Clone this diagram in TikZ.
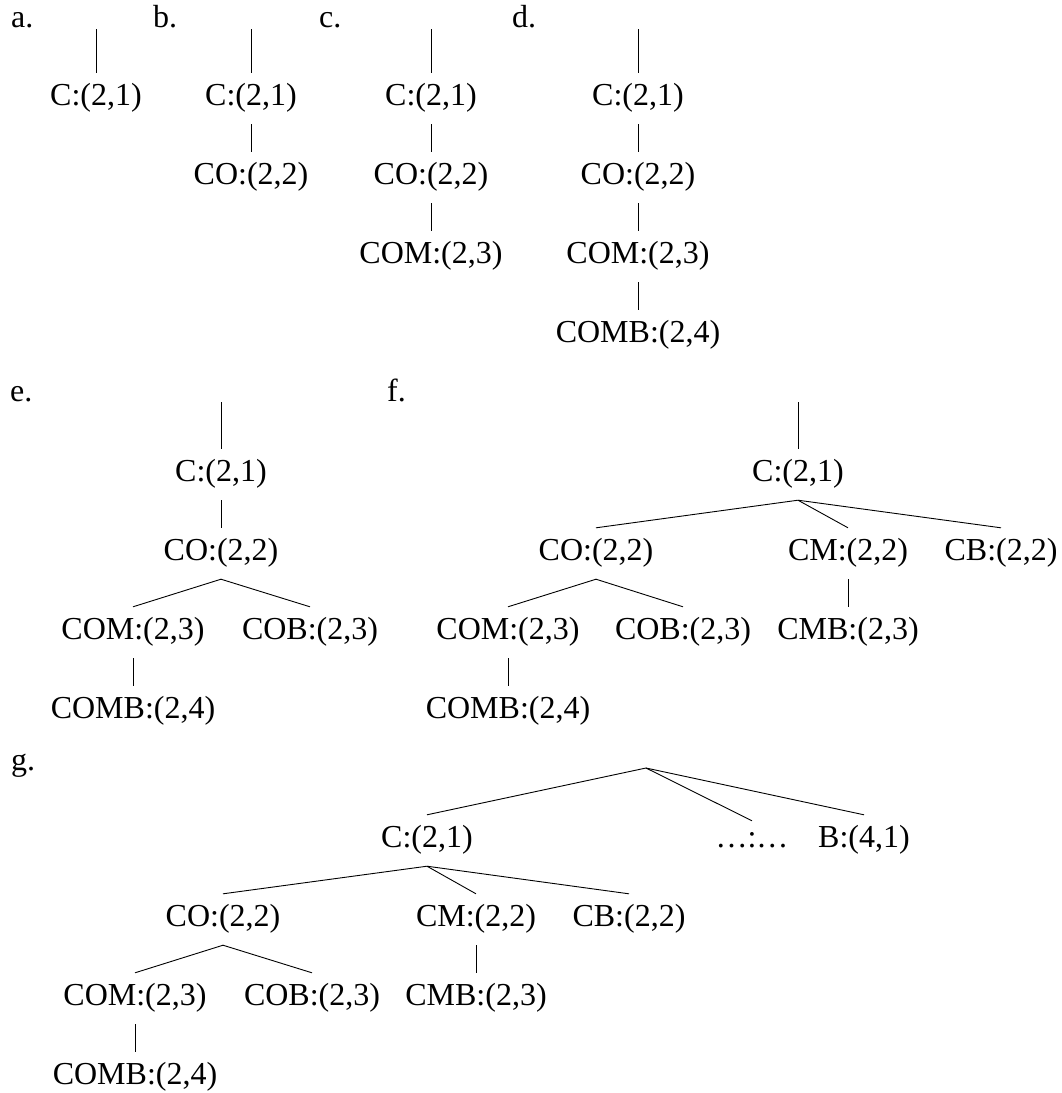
\documentclass[tikz,border=0pt]{standalone}
\usepackage{fontspec}
\setmainfont{Liberation Serif}
\tikzset{
  tn/.style={font=\fontsize{32}{38}\selectfont, inner xsep=0pt, inner ysep=12pt,
             text height=20pt, text depth=7pt, anchor=base},
  dotsn/.style={tn, text height=14pt},
  plab/.style={font=\fontsize{32}{38}\selectfont, inner sep=0pt, anchor=base west},
  edge/.style={line width=0.9pt}
}
\begin{document}
\begin{tikzpicture}[x=1pt,y=-1pt]
\useasboundingbox (0,0) rectangle (1062,1093);
% ---------- a ----------
\node[plab] (la) at (11,27) {a.};
\coordinate (ta) at (96,29);
\node[tn] (aC) at (96,105) {C:(2,1)};
\draw[edge] (ta) -- (aC.north);
% ---------- b ----------
\node[plab] (lb) at (153,27) {b.};
\coordinate (tb) at (251,29);
\node[tn] (bC) at (251,105) {C:(2,1)};
\node[tn] (bCO) at (251,184) {CO:(2,2)};
\draw[edge] (tb) -- (bC.north);
\draw[edge] (bC.south) -- (bCO.north);
% ---------- c ----------
\node[plab] (lc) at (319,27) {c.};
\coordinate (tc) at (431,29);
\node[tn] (cC) at (431,105) {C:(2,1)};
\node[tn] (cCO) at (431,184) {CO:(2,2)};
\node[tn] (cCOM) at (431,263) {COM:(2,3)};
\draw[edge] (tc) -- (cC.north);
\draw[edge] (cC.south) -- (cCO.north);
\draw[edge] (cCO.south) -- (cCOM.north);
% ---------- d ----------
\node[plab] (ld) at (512,27) {d.};
\coordinate (td) at (638,29);
\node[tn] (dC) at (638,105) {C:(2,1)};
\node[tn] (dCO) at (638,184) {CO:(2,2)};
\node[tn] (dCOM) at (638,263) {COM:(2,3)};
\node[tn] (dCOMB) at (638,342) {COMB:(2,4)};
\draw[edge] (td) -- (dC.north);
\draw[edge] (dC.south) -- (dCO.north);
\draw[edge] (dCO.south) -- (dCOM.north);
\draw[edge] (dCOM.south) -- (dCOMB.north);
% ---------- e ----------
\node[plab] (le) at (10,401) {e.};
\coordinate (te) at (221,402);
\node[tn] (eC) at (221,481) {C:(2,1)};
\node[tn] (eCO) at (221,560) {CO:(2,2)};
\node[tn] (eCOM) at (133,639) {COM:(2,3)};
\node[tn] (eCOB) at (310,639) {COB:(2,3)};
\node[tn] (eCOMB) at (133,718) {COMB:(2,4)};
\draw[edge] (te) -- (eC.north);
\draw[edge] (eC.south) -- (eCO.north);
\draw[edge] (eCOM.north) -- (eCO.south) -- (eCOB.north);
\draw[edge] (eCOM.south) -- (eCOMB.north);
% ---------- f ----------
\node[plab] (lf) at (387,401) {f.};
\coordinate (tf) at (798,402);
\node[tn] (fC) at (798,481) {C:(2,1)};
\node[tn] (fCO) at (596,560) {CO:(2,2)};
\node[tn] (fCM) at (848,560) {CM:(2,2)};
\node[tn] (fCB) at (1001,560) {CB:(2,2)};
\node[tn] (fCOM) at (508,639) {COM:(2,3)};
\node[tn] (fCOB) at (683,639) {COB:(2,3)};
\node[tn] (fCMB) at (848,639) {CMB:(2,3)};
\node[tn] (fCOMB) at (508,718) {COMB:(2,4)};
\draw[edge] (tf) -- (fC.north);
\draw[edge] (fC.south) -- (fCO.north);
\draw[edge] (fC.south) -- (fCM.north);
\draw[edge] (fC.south) -- (fCB.north);
\draw[edge] (fCOM.north) -- (fCO.south) -- (fCOB.north);
\draw[edge] (fCOM.south) -- (fCOMB.north);
\draw[edge] (fCM.south) -- (fCMB.north);
% ---------- g ----------
\node[plab] (lg) at (11,770) {g.};
\coordinate (gR) at (646,768);
\node[tn] (gC) at (427,847) {C:(2,1)};
\node[dotsn] (gD) at (752,847) {\ldots:\ldots};
\node[tn] (gB) at (864,847) {B:(4,1)};
\node[tn] (gCO) at (223,926) {CO:(2,2)};
\node[tn] (gCM) at (476,926) {CM:(2,2)};
\node[tn] (gCB) at (629,926) {CB:(2,2)};
\node[tn] (gCOM) at (135,1005) {COM:(2,3)};
\node[tn] (gCOB) at (312,1005) {COB:(2,3)};
\node[tn] (gCMB) at (476,1005) {CMB:(2,3)};
\node[tn] (gCOMB) at (135,1084) {COMB:(2,4)};
\draw[edge] (gR) -- (gC.north);
\draw[edge] (gR) -- (gD.north);
\draw[edge] (gR) -- (gB.north);
\draw[edge] (gC.south) -- (gCO.north);
\draw[edge] (gC.south) -- (gCM.north);
\draw[edge] (gC.south) -- (gCB.north);
\draw[edge] (gCOM.north) -- (gCO.south) -- (gCOB.north);
\draw[edge] (gCOM.south) -- (gCOMB.north);
\draw[edge] (gCM.south) -- (gCMB.north);
\end{tikzpicture}
\end{document}
